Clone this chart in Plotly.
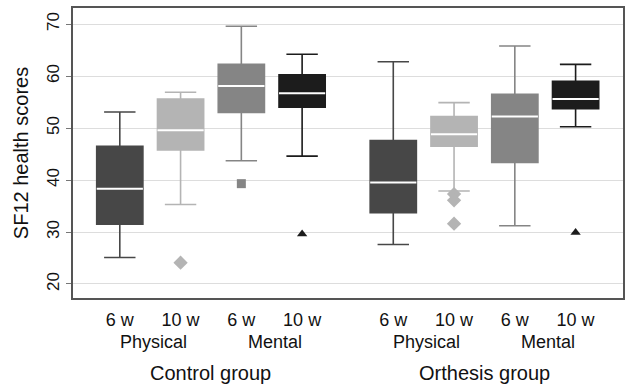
import plotly.graph_objects as go

# ---- data ----
groups = ["Control group", "Orthesis group"]
measures = ["Physical", "Mental"]
times = ["6 w", "10 w"]
positions = [1, 2, 3, 4, 5.5, 6.5, 7.5, 8.5]
tick_labels = ["6 w", "10 w", "6 w", "10 w", "6 w", "10 w", "6 w", "10 w"]

lower_whisker = [25.1, 35.3, 43.7, 44.6, 27.6, 37.9, 31.2, 50.25]
q1 = [31.5, 45.8, 53.0, 54.0, 33.7, 46.5, 43.4, 53.7]
median = [38.3, 49.6, 58.1, 56.7, 39.5, 48.8, 52.2, 55.6]
q3 = [46.5, 55.6, 62.25, 60.25, 47.6, 52.2, 56.5, 59.0]
upper_whisker = [53.1, 56.9, 69.6, 64.2, 62.75, 54.9, 65.8, 62.25]

outliers = [[], [24.1], [39.3], [29.6], [], [37.3, 36.1, 31.6], [], [29.9]]

colors = ["#474747", "#b4b4b4", "#858585", "#1c1c1c"] * 2
symbols = ["circle", "diamond", "square", "triangle-up"] * 2
sizes = [9, 11, 9, 9] * 2

box_width = 0.76

fig = go.Figure()
for i, p in enumerate(positions):
    c = colors[i]
    fig.add_trace(go.Box(
        x=[p], q1=[q1[i]], median=[median[i]], q3=[q3[i]],
        lowerfence=[lower_whisker[i]], upperfence=[upper_whisker[i]],
        width=box_width, whiskerwidth=0.68,
        fillcolor=c, line=dict(color=c, width=1.6),
        boxpoints=False, hoverinfo="skip", showlegend=False,
    ))
    # white median line
    fig.add_trace(go.Scatter(
        x=[p - box_width / 2, p + box_width / 2], y=[median[i], median[i]],
        mode="lines", line=dict(color="white", width=2),
        hoverinfo="skip", showlegend=False,
    ))
    if outliers[i]:
        fig.add_trace(go.Scatter(
            x=[p] * len(outliers[i]), y=outliers[i], mode="markers",
            marker=dict(symbol=symbols[i], color=c, size=sizes[i]),
            hoverinfo="skip", showlegend=False,
        ))

font_family = "Liberation Sans, Arial, sans-serif"
txt = "#111111"

annotations = []
for gi in range(2):
    for mi, m in enumerate(measures):
        a = positions[gi * 4 + mi * 2]
        b = positions[gi * 4 + mi * 2 + 1]
        annotations.append(dict(
            x=(a + b) / 2 + 0.05, y=-0.152, xref="x", yref="paper",
            text=m, showarrow=False, yanchor="middle",
            font=dict(size=18, color=txt, family=font_family),
        ))
    a = positions[gi * 4]
    b = positions[gi * 4 + 3]
    annotations.append(dict(
        x=(a + b) / 2, y=-0.26, xref="x", yref="paper",
        text=groups[gi], showarrow=False, yanchor="middle",
        font=dict(size=20, color=txt, family=font_family),
    ))

fig.update_layout(
    width=629, height=388,
    margin=dict(l=73, r=4, t=8, b=90),
    paper_bgcolor="white", plot_bgcolor="white",
    font=dict(family=font_family, color=txt),
    annotations=annotations,
    xaxis=dict(
        range=[0.23, 9.28], tickvals=positions, ticktext=tick_labels,
        tickfont=dict(size=18, color=txt), ticks="", showgrid=False,
        zeroline=False, showline=True, linecolor="#555555", linewidth=1.5,
        mirror=True, ticklabelstandoff=5,
    ),
    yaxis=dict(
        range=[17.3, 73.1], tickvals=[20, 30, 40, 50, 60, 70],
        tickangle=-90, tickfont=dict(size=17, color=txt),
        ticks="outside", ticklen=5, tickcolor="#777777",
        showgrid=True, gridcolor="#dddddd", gridwidth=1,
        zeroline=False, showline=True, linecolor="#555555", linewidth=1.5,
        mirror=True,
        title=dict(text="SF12 health scores", font=dict(size=20, color=txt), standoff=10),
    ),
)

fig.write_html("out.html")
